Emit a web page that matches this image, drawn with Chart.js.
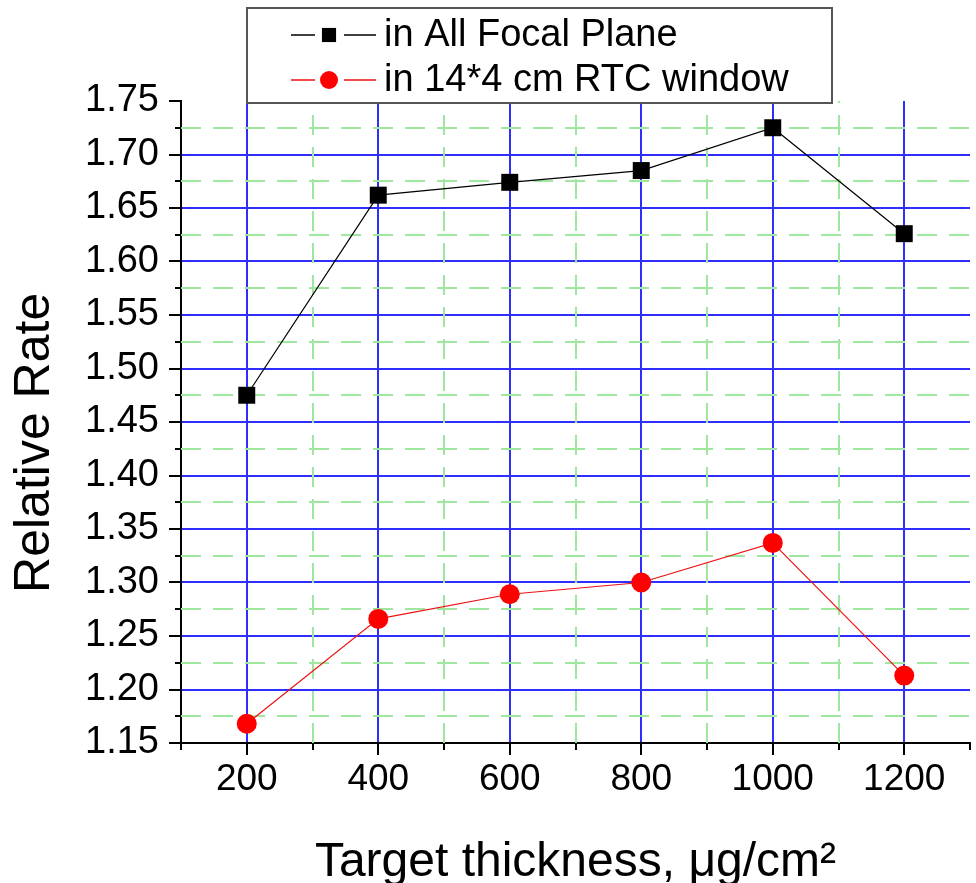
<!DOCTYPE html>
<html>
<head>
<meta charset="utf-8">
<title>Relative Rate vs Target thickness</title>
<script src="https://cdn.jsdelivr.net/npm/chart.js@4.4.1/dist/chart.umd.min.js"></script>
<style>
  html, body { margin: 0; padding: 0; background: #fff; }
  canvas { display: block; }
</style>
</head>
<body>
<canvas id="rate" width="976" height="883"></canvas>
<script>
// target thickness, ug/cm2
const thickness = [200, 400, 600, 800, 1000, 1200];
// relative rate, whole focal plane
const rateFocalPlane = [1.475, 1.662, 1.674, 1.685, 1.725, 1.626];
// relative rate, 14*4 cm RTC window
const rateRtcWindow = [1.168, 1.266, 1.289, 1.300, 1.337, 1.213];

const xMajorTicks = [200, 400, 600, 800, 1000, 1200];
const xMinorTicks = [100, 300, 500, 700, 900, 1100, 1300];
const yMajorTicks = [1.15, 1.20, 1.25, 1.30, 1.35, 1.40, 1.45, 1.50, 1.55, 1.60, 1.65, 1.70, 1.75];
const yMinorTicks = [1.175, 1.225, 1.275, 1.325, 1.375, 1.425, 1.475, 1.525, 1.575, 1.625, 1.675, 1.725];

const FONT = "'Liberation Sans', Arial, sans-serif";
const BLUE = '#2e2eff';
const GREEN = '#9fe69f';

// dashed green minor grid plus the short outer minor ticks
const minorGrid = {
  id: 'minorGrid',
  beforeDatasetsDraw(chart) {
    const { ctx, chartArea: a, scales: { x, y } } = chart;
    ctx.save();
    ctx.strokeStyle = GREEN;
    ctx.lineWidth = 2;
    ctx.setLineDash([20, 12]);
    ctx.beginPath();
    xMinorTicks.forEach(v => {
      if (v <= x.min || v >= x.max) return;
      const px = Math.round(x.getPixelForValue(v));
      ctx.moveTo(px, a.bottom);
      ctx.lineTo(px, a.top);
    });
    yMinorTicks.forEach(v => {
      const py = Math.round(y.getPixelForValue(v));
      ctx.moveTo(a.left, py);
      ctx.lineTo(a.right, py);
    });
    ctx.stroke();

    ctx.setLineDash([]);
    ctx.strokeStyle = '#000';
    ctx.lineWidth = 2;
    ctx.beginPath();
    xMinorTicks.forEach(v => {
      const px = Math.round(x.getPixelForValue(v));
      ctx.moveTo(px, a.bottom);
      ctx.lineTo(px, a.bottom + 7);
    });
    yMinorTicks.forEach(v => {
      const py = Math.round(y.getPixelForValue(v));
      ctx.moveTo(a.left - 6, py);
      ctx.lineTo(a.left, py);
    });
    ctx.stroke();
    ctx.restore();
  }
};

// boxed legend with line - symbol - line samples
const legendBox = {
  id: 'legendBox',
  afterDraw(chart) {
    const { ctx } = chart;
    const box = { left: 247, top: 8, width: 585, height: 95 };
    const rows = [35, 80];
    ctx.save();
    ctx.fillStyle = '#fff';
    ctx.fillRect(box.left, box.top, box.width, box.height);
    ctx.strokeStyle = '#555';
    ctx.lineWidth = 2;
    ctx.strokeRect(box.left, box.top, box.width, box.height);

    chart.data.datasets.forEach((ds, i) => {
      const cy = rows[i];
      ctx.strokeStyle = ds.borderColor;
      ctx.lineWidth = 1.5;
      ctx.beginPath();
      ctx.moveTo(291, cy); ctx.lineTo(315, cy);
      ctx.moveTo(344, cy); ctx.lineTo(376, cy);
      ctx.stroke();
      ctx.fillStyle = ds.backgroundColor;
      Chart.helpers.drawPoint(ctx, {
        pointStyle: ds.pointStyle,
        radius: ds.pointStyle === 'rect' ? 10 : 9,
        rotation: 0,
        borderWidth: 0
      }, 329, cy);
      ctx.fillStyle = '#000';
      ctx.font = '38px ' + FONT;
      ctx.textBaseline = 'middle';
      ctx.textAlign = 'left';
      ctx.fillText(ds.label, 384, cy + 1);
    });
    ctx.restore();
  }
};

const toPoints = ys => thickness.map((t, i) => ({ x: t, y: ys[i] }));

new Chart(document.getElementById('rate'), {
  type: 'line',
  data: {
    datasets: [
      {
        label: 'in All Focal Plane',
        data: toPoints(rateFocalPlane),
        borderColor: '#000',
        backgroundColor: '#000',
        borderWidth: 1.2,
        pointStyle: 'rect',
        pointRadius: 12,
        pointBorderWidth: 0
      },
      {
        label: 'in 14*4 cm RTC window',
        data: toPoints(rateRtcWindow),
        borderColor: '#ee1111',
        backgroundColor: '#ff0000',
        borderWidth: 1.2,
        pointStyle: 'circle',
        pointRadius: 10,
        pointBorderWidth: 0
      }
    ]
  },
  options: {
    responsive: false,
    animation: false,
    events: [],
    // big markers would otherwise pad the plot edges
    layout: { autoPadding: false, padding: { top: 101, right: 6, left: 0, bottom: 0 } },
    plugins: {
      legend: { display: false },
      tooltip: { enabled: false }
    },
    scales: {
      x: {
        type: 'linear',
        min: 100,
        max: 1300,
        afterBuildTicks: s => { s.ticks = xMajorTicks.map(v => ({ value: v })); },
        afterFit: s => { s.height = 140; s.paddingLeft = 0; s.paddingRight = 0; },
        grid: {
          color: BLUE,
          lineWidth: 2,
          tickColor: '#000',
          tickLength: 12,
          tickWidth: 2
        },
        border: { color: '#000', width: 2 },
        ticks: {
          color: '#000',
          padding: 3,
          maxRotation: 0,
          font: { family: FONT, size: 37 },
          callback: v => String(v)
        },
        title: {
          display: true,
          text: 'Target thickness, μg/cm²',
          color: '#000',
          font: { family: FONT, size: 48, lineHeight: 0.85 },
          padding: { top: 0, bottom: 0 }
        }
      },
      y: {
        min: 1.15,
        max: 1.75,
        afterBuildTicks: s => { s.ticks = yMajorTicks.map(v => ({ value: v })); },
        afterFit: s => { s.width = 181; s.paddingTop = 0; s.paddingBottom = 0; },
        grid: {
          color: ctx => (ctx.tick && ctx.tick.value >= 1.75 ? 'rgba(0,0,0,0)' : BLUE),
          lineWidth: 2,
          tickColor: '#000',
          tickLength: 12,
          tickWidth: 2
        },
        border: { color: '#000', width: 2 },
        ticks: {
          color: '#000',
          padding: 10,
          font: { family: FONT, size: 38 },
          callback: v => v.toFixed(2)
        },
        title: {
          display: true,
          // trailing spaces nudge the rotated title toward the bottom
          text: 'Relative Rate   ',
          color: '#000',
          font: { family: FONT, size: 50 },
          padding: { top: 5, bottom: 0 }
        }
      }
    }
  },
  plugins: [minorGrid, legendBox]
});
</script>
</body>
</html>
